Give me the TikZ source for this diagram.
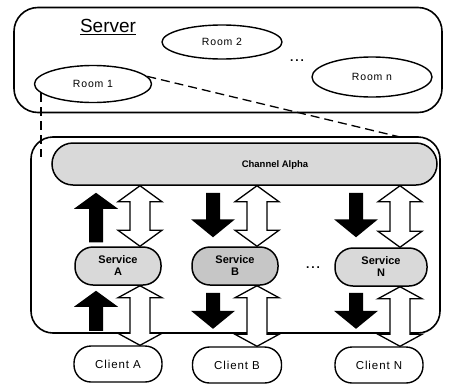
\documentclass[tikz,border=0pt]{standalone}
\usepackage{fontspec}
\setmainfont{Liberation Sans}
\newfontfamily\spaced[LetterSpace=8]{Liberation Sans}
\usetikzlibrary{calc,shapes.geometric}

% two-way hollow block arrow: #1 upper tip, #2 lower tip, #3 head length
\newcommand\twoway[3]{%
  \draw[hollowarr] (#1) -- ($(#1)+(22,#3)$) -- ($(#1)+(10,#3)$)
    -- ($(#2)+(10,-#3)$) -- ($(#2)+(22,-#3)$) -- (#2)
    -- ($(#2)+(-22,-#3)$) -- ($(#2)+(-10,-#3)$)
    -- ($(#1)+(-10,#3)$) -- ($(#1)+(-22,#3)$) -- cycle;}
% solid block arrow pointing up: #1 tip, #2 tail
\newcommand\pushup[2]{%
  \fill[blackarr] (#1) -- ($(#1)+(22,16)$) -- ($(#1)+(7,16)$)
    -- ($(#2)+(7,0)$) -- ($(#2)+(-7,0)$)
    -- ($(#1)+(-7,16)$) -- ($(#1)+(-22,16)$) -- cycle;}
% solid block arrow pointing down: #1 tail, #2 tip
\newcommand\pushdown[2]{%
  \fill[blackarr] (#2) -- ($(#2)+(22,-18)$) -- ($(#2)+(7,-18)$)
    -- ($(#1)+(7,0)$) -- ($(#1)+(-7,0)$)
    -- ($(#2)+(-7,-18)$) -- ($(#2)+(-22,-18)$) -- cycle;}

\begin{document}
\begin{tikzpicture}[x=1pt,y=-1pt,
  frame/.style={draw, line width=1.6pt, rounded corners=24pt, inner sep=0pt},
  room/.style={draw, ellipse, line width=1.4pt, inner sep=0pt,
    minimum width=118pt, minimum height=36pt,
    font=\spaced\fontsize{10.5}{12}\selectfont},
  service/.style={draw, rounded corners=18pt, line width=1.5pt, fill=gray!30,
    minimum width=86pt, minimum height=38pt, inner sep=0pt, align=center,
    font=\bfseries\fontsize{11}{12}\selectfont},
  client/.style={draw, rounded corners=17pt, line width=1.4pt, inner sep=0pt,
    minimum width=88pt, minimum height=36pt,
    font=\spaced\fontsize{11.5}{13}\selectfont},
  hollowarr/.style={draw, fill=white, line width=1.3pt, line join=miter},
  blackarr/.style={fill=black},
  zoomline/.style={line width=1.3pt, dash pattern=on 9pt off 5pt},
  dotsep/.style={font=\bfseries\fontsize{12}{12}\selectfont}
]
\useasboundingbox (0,0) rectangle (449,383);

% server with its rooms
\node[frame, minimum width=428pt, minimum height=105pt] (server) at (228,60) {};
\node[font=\fontsize{19}{20}\selectfont] (serverlabel) at (108,27) {\underline{Server}};
\node[room, minimum width=117pt, minimum height=37pt] (room1) at (93,84) {Room 1};
\node[room, minimum width=120pt, minimum height=34pt] (room2) at (222,42) {Room 2};
\node[room, minimum width=120pt, minimum height=40pt] (roomn) at (372,77) {Room n};
\node[dotsep] (roomdots) at (297,61) {.\,.\,.};

% expanded room
\node[frame, rounded corners=22pt, minimum width=409pt, minimum height=196pt] (group) at (235.5,235) {};
\node[draw, line width=1.5pt, fill=gray!30, rounded corners=21pt,
      minimum width=385pt, minimum height=42pt, inner sep=0pt] (chan) at (244.5,164) {};
\node[font=\bfseries\fontsize{9.5}{10}\selectfont] (chanlabel) at (275,165) {Channel Alpha};

\coordinate (gl) at (35,157);
\coordinate (gr) at (400,137);
\draw[zoomline] (room1.190) -- (room1.190 |- gl);
\draw[zoomline] (room1.8) -- (gr);

% services and clients
\node[service] (svcA) at (118,266) {Service\\A};
\node[service, fill=gray!45] (svcB) at (235,266) {Service\\B};
\node[service, minimum width=92pt] (svcN) at (381,267) {Service\\N};
\node[dotsep] (svcdots) at (313,268) {.\,.\,.};

\node[client] (cliA) at (118,364) {Client A};
\node[client, minimum width=89pt] (cliB) at (237,365) {Client B};
\node[client] (cliN) at (379,365) {Client N};

% arrow columns
\coordinate (hA) at (140,0);
\coordinate (hB) at (257,0);
\coordinate (hN) at (400,0);
\coordinate (bA) at (96,0);
\coordinate (bB) at (213,0);
\coordinate (bN) at (356,0);

% channel <-> services
\twoway{chan.south -| hA}{svcA.north -| hA}{16}
\twoway{chan.south -| hB}{svcB.north -| hB}{16}
\twoway{chan.south -| hN}{svcN.north -| hN}{16}
\pushup{$(chan.south -| bA)+(0,7)$}{$(svcA.north -| bA)+(0,-4)$}
\pushdown{$(chan.south -| bB)+(0,7)$}{$(svcB.north -| bB)+(0,-9)$}
\pushdown{$(chan.south -| bN)+(0,7)$}{$(svcN.north -| bN)+(0,-10)$}

% services <-> clients
\twoway{svcA.south -| hA}{cliA.north -| hA}{12}
\twoway{svcB.south -| hB}{cliB.north -| hB}{12}
\twoway{svcN.south -| hN}{cliN.north -| hN}{12}
\pushup{$(svcA.south -| bA)+(0,5)$}{$(group.south -| bA)+(0,-3)$}
\pushdown{$(svcB.south -| bB)+(0,7)$}{$(group.south -| bB)+(0,-5)$}
\pushdown{$(svcN.south -| bN)+(0,6)$}{$(group.south -| bN)+(0,-5)$}
\end{tikzpicture}
\end{document}
